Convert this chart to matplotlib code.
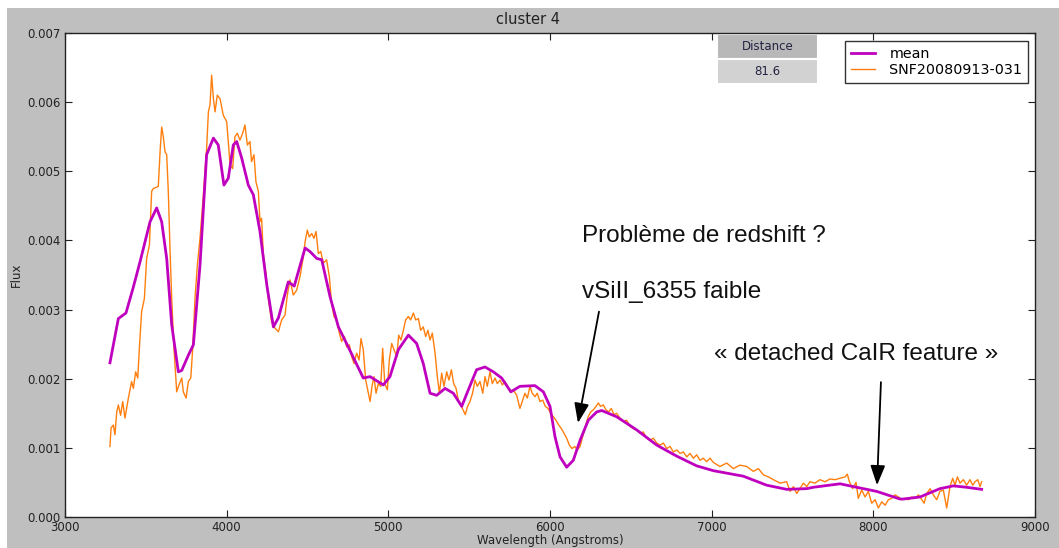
import matplotlib
matplotlib.use("Agg")
import matplotlib.pyplot as plt
from matplotlib.patches import Rectangle
from matplotlib.ticker import FormatStrFormatter, MultipleLocator

# Mean spectrum of the cluster (wavelength in Angstroms, flux)
mean_wave = [3278, 3330, 3377, 3421, 3464, 3526, 3567, 3598, 3629, 3660, 3701, 3722,
             3763, 3794, 3835, 3876, 3918, 3948, 3983, 4010, 4041, 4062, 4093, 4134,
             4165, 4206, 4248, 4289, 4320, 4381, 4418, 4485, 4515, 4557, 4588, 4639,
             4691, 4752, 4845, 4887, 4969, 5010, 5062, 5124, 5175, 5216, 5258, 5299,
             5351, 5402, 5454, 5495, 5546, 5598, 5649, 5701, 5758, 5814, 5907, 5959,
             6000, 6031, 6062, 6103, 6144, 6186, 6237, 6289, 6320, 6412, 6536, 6660,
             6784, 6907, 7010, 7196, 7340, 7464, 7588, 7629, 7794, 7815, 7876, 8021,
             8165, 8186, 8289, 8412, 8495, 8577, 8670]
mean_flux = [0.00223, 0.00287, 0.00295, 0.00331, 0.00369, 0.00427, 0.00447, 0.00427,
             0.00374, 0.00278, 0.00210, 0.00212, 0.00234, 0.00249, 0.00364, 0.00524,
             0.00548, 0.00538, 0.00480, 0.00490, 0.00538, 0.00543, 0.00519, 0.00480,
             0.00466, 0.00413, 0.00336, 0.00275, 0.00288, 0.00340, 0.00334, 0.00389,
             0.00384, 0.00374, 0.00372, 0.00319, 0.00275, 0.00246, 0.00201, 0.00203,
             0.00191, 0.00203, 0.00242, 0.00263, 0.00251, 0.00222, 0.00179, 0.00176,
             0.00186, 0.00179, 0.00160, 0.00184, 0.00213, 0.00217, 0.00210, 0.00201,
             0.00181, 0.00189, 0.00190, 0.00181, 0.00160, 0.00116, 0.00087, 0.00072,
             0.00082, 0.00111, 0.00140, 0.00152, 0.00154, 0.00145, 0.00126, 0.00104,
             0.00088, 0.00074, 0.00067, 0.00059, 0.00046, 0.00040, 0.00041, 0.00043,
             0.00048, 0.00047, 0.00044, 0.00037, 0.00026, 0.00026, 0.00029, 0.00041,
             0.00045, 0.00043, 0.00040]

# Observed spectrum SNF20080913-031
sn_wave = [3278, 3285, 3299, 3309, 3320, 3330, 3344, 3357, 3371, 3392, 3412, 3423,
           3437, 3450, 3460, 3474, 3491, 3505, 3522, 3536, 3546, 3577, 3588, 3598,
           3608, 3619, 3629, 3639, 3650, 3660, 3674, 3691, 3705, 3722, 3732, 3749,
           3763, 3778, 3790, 3804, 3819, 3835, 3856, 3876, 3887, 3897, 3907, 3918,
           3928, 3942, 3959, 3979, 4000, 4010, 4021, 4037, 4051, 4066, 4082, 4099,
           4113, 4128, 4144, 4154, 4169, 4181, 4196, 4206, 4216, 4227, 4241, 4258,
           4278, 4299, 4320, 4340, 4361, 4375,
           4392, 4412, 4433, 4454, 4474, 4485, 4499, 4511, 4526, 4540, 4553, 4567,
           4582, 4598, 4618, 4635, 4649, 4664, 4680, 4697, 4711, 4728, 4742, 4759,
           4773, 4788, 4804, 4819, 4831, 4845, 4860, 4872, 4887, 4899, 4911, 4924,
           4938, 4953, 4965, 4978, 4994, 5006, 5021, 5035, 5052, 5064, 5078, 5093,
           5107, 5124, 5138, 5155, 5169, 5186, 5200, 5216, 5231, 5245, 5258, 5272,
           5289, 5303, 5316, 5330, 5344, 5361, 5375, 5390, 5404, 5419, 5433, 5448,
           5462, 5476, 5490, 5505, 5521, 5536, 5550, 5567, 5584, 5598, 5612, 5629,
           5643, 5660, 5674, 5691, 5705, 5722, 5736,
           5753, 5773, 5794, 5814, 5831, 5845, 5860, 5876, 5890, 5907, 5921, 5938,
           5955, 5971, 5988, 6004, 6021, 6037, 6054, 6070, 6087, 6103, 6120, 6136,
           6153, 6169, 6186, 6202, 6219, 6236, 6252, 6268, 6285, 6299, 6313, 6330,
           6346, 6363, 6379, 6396, 6412, 6433, 6453, 6474, 6495, 6515, 6536, 6557,
           6577, 6598, 6619, 6639, 6660, 6681, 6701, 6722, 6743, 6763, 6784, 6805,
           6825, 6846, 6866, 6887, 6907, 6928, 6948, 6969, 6990, 7010,
           7051, 7093, 7134, 7175, 7217, 7258, 7289, 7320, 7351, 7382, 7423, 7464,
           7485, 7506, 7526, 7546, 7567, 7588, 7608, 7639, 7670, 7701, 7732, 7763,
           7794, 7825, 7839, 7852, 7872, 7893, 7907, 7928, 7949, 7969, 7990, 8011,
           8031, 8052, 8073, 8093, 8114, 8134, 8155, 8176, 8196, 8217, 8238, 8258,
           8279, 8300, 8314, 8330, 8351, 8371, 8392, 8412, 8433, 8454, 8474, 8491,
           8505, 8520, 8536, 8557, 8577, 8598, 8615, 8629, 8646, 8660, 8670]
sn_flux = [0.00102, 0.00129, 0.00133, 0.00119, 0.00152, 0.00162, 0.00147, 0.00167,
           0.00143, 0.00172, 0.00196, 0.00186, 0.00210, 0.00201, 0.00244, 0.00297,
           0.00316, 0.00374, 0.00393, 0.00471, 0.00475, 0.00478, 0.00528, 0.00564,
           0.00550, 0.00528, 0.00524, 0.00471, 0.00384, 0.00316, 0.00244, 0.00181,
           0.00191, 0.00201, 0.00181, 0.00172, 0.00196, 0.00201, 0.00244, 0.00316,
           0.00365, 0.00403, 0.00466, 0.00533, 0.00586, 0.00596, 0.00639, 0.00605,
           0.00586, 0.00610, 0.00605, 0.00581, 0.00572, 0.00543, 0.00509, 0.00504,
           0.00550, 0.00555, 0.00545, 0.00555, 0.00567, 0.00538, 0.00543, 0.00514,
           0.00524, 0.00485, 0.00471, 0.00427, 0.00432, 0.00379, 0.00355, 0.00316,
           0.00282, 0.00273, 0.00268, 0.00285, 0.00292, 0.00321,
           0.00343, 0.00321, 0.00328, 0.00348, 0.00376, 0.00398, 0.00415, 0.00405,
           0.00410, 0.00403, 0.00413, 0.00381, 0.00384, 0.00367, 0.00372, 0.00348,
           0.00309, 0.00290, 0.00285, 0.00266, 0.00254, 0.00261, 0.00246, 0.00249,
           0.00232, 0.00222, 0.00237, 0.00227, 0.00258, 0.00242, 0.00198, 0.00184,
           0.00167, 0.00189, 0.00203, 0.00179, 0.00193, 0.00189, 0.00244, 0.00193,
           0.00184, 0.00227, 0.00251, 0.00242, 0.00232, 0.00263, 0.00256, 0.00270,
           0.00285, 0.00290, 0.00285, 0.00295, 0.00285, 0.00287, 0.00270, 0.00275,
           0.00261, 0.00270, 0.00256, 0.00266, 0.00237, 0.00203, 0.00179, 0.00208,
           0.00189, 0.00210, 0.00198, 0.00213, 0.00193, 0.00186, 0.00169, 0.00162,
           0.00155, 0.00148, 0.00160, 0.00167, 0.00179, 0.00198, 0.00189, 0.00196,
           0.00179, 0.00203, 0.00189, 0.00210, 0.00193, 0.00201, 0.00193, 0.00198,
           0.00191, 0.00196, 0.00189,
           0.00181, 0.00184, 0.00176, 0.00157, 0.00169, 0.00179, 0.00172, 0.00189,
           0.00179, 0.00174, 0.00179, 0.00167, 0.00169, 0.00160, 0.00157, 0.00150,
           0.00145, 0.00140, 0.00133, 0.00128, 0.00121, 0.00114, 0.00104, 0.00099,
           0.00102, 0.00097, 0.00102, 0.00116, 0.00131, 0.00145, 0.00152, 0.00155,
           0.00160, 0.00165, 0.00160, 0.00162, 0.00155, 0.00152, 0.00157, 0.00148,
           0.00150, 0.00143, 0.00138, 0.00140, 0.00131, 0.00128, 0.00126, 0.00121,
           0.00123, 0.00114, 0.00111, 0.00114, 0.00107, 0.00104, 0.00107, 0.00099,
           0.00102, 0.00094, 0.00097, 0.00092, 0.00094, 0.00087, 0.00092, 0.00085,
           0.00090, 0.00082, 0.00085, 0.00080, 0.00085, 0.00079,
           0.00073, 0.00078, 0.00070, 0.00075, 0.00073, 0.00066, 0.00070, 0.00061,
           0.00058, 0.00054, 0.00049, 0.00051, 0.00037, 0.00044, 0.00034, 0.00041,
           0.00049, 0.00044, 0.00051, 0.00049, 0.00054, 0.00051, 0.00055, 0.00054,
           0.00056, 0.00058, 0.00062, 0.00051, 0.00041, 0.00050, 0.00027, 0.00039,
           0.00029, 0.00037, 0.00020, 0.00025, 0.00013, 0.00022, 0.00017, 0.00025,
           0.00027, 0.00032, 0.00029, 0.00025, 0.00027, 0.00025, 0.00029, 0.00027,
           0.00032, 0.00025, 0.00020, 0.00034, 0.00041, 0.00032, 0.00025, 0.00037,
           0.00039, 0.00013, 0.00044, 0.00056, 0.00046, 0.00058, 0.00049, 0.00054,
           0.00046, 0.00054, 0.00046, 0.00051, 0.00054, 0.00044, 0.00051]

series_labels = ["mean", "SNF20080913-031"]
distance_header = "Distance"
distance_value = "81.6"
x_ticks = [3000, 4000, 5000, 6000, 7000, 8000, 9000]

W, H, DPI = 1059, 548, 100
fig = plt.figure(figsize=(W / DPI, H / DPI), dpi=DPI, facecolor="white")
fig.patches.append(Rectangle((7 / W, 0), 1 - 7 / W, 1 - 8 / H, transform=fig.transFigure,
                             facecolor="#bfbfbf", edgecolor="none", zorder=-10))

ax = fig.add_axes([65 / W, (H - 517) / H, (1035 - 65) / W, (517 - 33) / H])
ax.set_facecolor("white")

ax.plot(mean_wave, mean_flux, color="#bf00bf", lw=2.0, label=series_labels[0], zorder=3,
        solid_joinstyle="round")
ax.plot(sn_wave, sn_flux, color="#ff7f0e", lw=1.0, label=series_labels[1], zorder=2)

ax.set_xlim(3000, 9000)
ax.set_ylim(0, 0.007)
ax.set_xticks(x_ticks)
ax.yaxis.set_major_locator(MultipleLocator(0.001))
ax.yaxis.set_major_formatter(FormatStrFormatter("%.3f"))
ax.tick_params(direction="in", top=True, right=True, length=5, width=0.8,
               labelsize=8.5, pad=3, colors="#222222")
for sp in ax.spines.values():
    sp.set_linewidth(1.0)
    sp.set_color("#222222")

ax.text((528 - 65) / 970, 1.0 + 13 / 484, "cluster 4", transform=ax.transAxes,
        ha="center", va="center", fontsize=10.5, color="#222222")
ax.set_xlabel("Wavelength (Angstroms)", fontsize=8.5, labelpad=0, color="#222222")
ax.set_ylabel("Flux", fontsize=8.5, labelpad=3, color="#222222")

leg = ax.legend(loc="upper right", bbox_to_anchor=((1028 - 65) / 970, (517 - 41) / 484),
                borderaxespad=0, fontsize=10.3, frameon=True, fancybox=False,
                handlelength=1.7, borderpad=0.4, labelspacing=0.18, handletextpad=1.0)
leg.get_frame().set_edgecolor("black")
leg.get_frame().set_linewidth(1.0)

tbl = ax.table(cellText=[[distance_value]], colLabels=[distance_header],
               cellColours=[["#d2d2d2"]], colColours=["#b8b8b8"],
               cellLoc="center", bbox=[(717 - 65) / 970, (517 - 84) / 484,
                                       (818 - 717) / 970, 50 / 484])
tbl.auto_set_font_size(False)
for (r, c), cell in tbl.get_celld().items():
    cell.set_edgecolor("white")
    cell.set_linewidth(1.5)
    cell.get_text().set_fontsize(8.5)
    cell.get_text().set_color("#222244")

note_font = dict(fontsize=17.5, family="Liberation Sans", color="#111111", va="baseline")
ax.text(6198, 0.00398, "Problème de redshift ?", **note_font)
ax.text(6198, 0.00317, "vSiII_6355 faible", **note_font)
ax.text(7014, 0.00227, "« detached CaIR feature »", **note_font)

arrow = dict(arrowstyle="-|>,head_length=1.2,head_width=0.45", color="black",
             lw=1.3, shrinkA=0, shrinkB=0, mutation_scale=10)
ax.annotate("", xy=(6173, 0.00136), xytext=(6303, 0.00297), arrowprops=arrow)
ax.annotate("", xy=(8023, 0.00046), xytext=(8047, 0.00195), arrowprops=arrow)

fig.savefig("out.png", dpi=DPI, facecolor=fig.get_facecolor())
